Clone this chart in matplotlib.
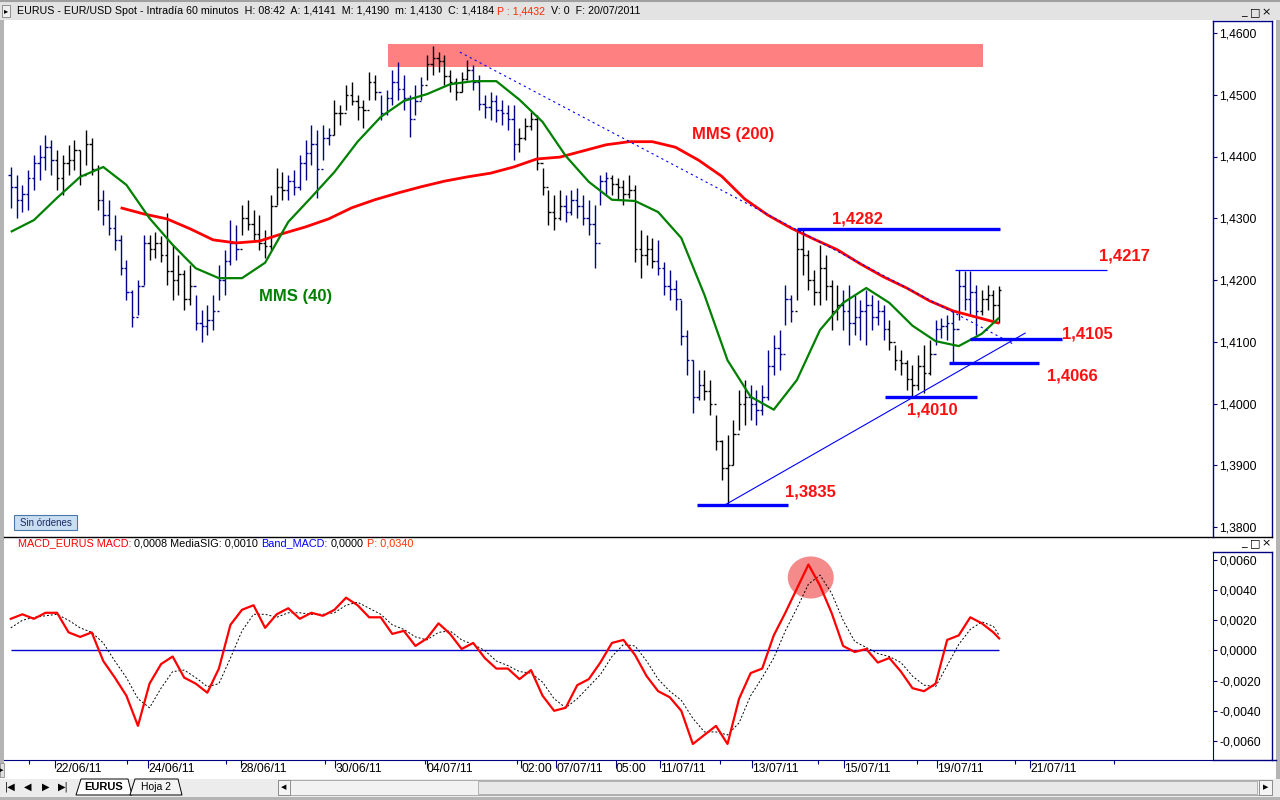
import numpy as np
import matplotlib
matplotlib.use('Agg')
import matplotlib.pyplot as plt
from matplotlib.patches import Rectangle, Ellipse, Polygon
from matplotlib.lines import Line2D

plt.rcParams['font.family'] = ['Liberation Sans', 'DejaVu Sans']

# ---------------- data (3-hour bars, 8 per trading day) ----------------
days = ['21/06', '22/06', '23/06', '24/06', '27/06', '28/06', '29/06', '30/06', '01/07', '04/07', '05/07',
        '06/07', '07/07', '08/07', '11/07', '12/07', '13/07', '14/07', '15/07', '18/07', '19/07', '20/07']
bars_per_day = 8
open_first = 1.4370

high = [1.4383, 1.4370, 1.4354, 1.4378, 1.4402, 1.4419, 1.4435, 1.4427,
        1.4411, 1.4402, 1.4419, 1.4427, 1.4411, 1.4443, 1.4430, 1.4386,
        1.4346, 1.4330, 1.4305, 1.4273, 1.4232, 1.4184, 1.4200, 1.4273,
        1.4273, 1.4278, 1.4271, 1.4308, 1.4257, 1.4240, 1.4216, 1.4224,
        1.4176, 1.4151, 1.4159, 1.4176, 1.4224, 1.4249, 1.4297, 1.4289,
        1.4322, 1.4330, 1.4313, 1.4305, 1.4281, 1.4338, 1.4381, 1.4375,
        1.4370, 1.4378, 1.4402, 1.4427, 1.4451, 1.4443, 1.4451, 1.4446,
        1.4491, 1.4483, 1.4516, 1.4521, 1.4500, 1.4491, 1.4537, 1.4532,
        1.4500, 1.4508, 1.4540, 1.4553, 1.4532, 1.4500, 1.4516, 1.4529,
        1.4564, 1.4579, 1.4569, 1.4564, 1.4540, 1.4527, 1.4537, 1.4556,
        1.4548, 1.4532, 1.4500, 1.4505, 1.4500, 1.4491, 1.4483, 1.4483,
        1.4446, 1.4462, 1.4472, 1.4467, 1.4381, 1.4346, 1.4338, 1.4346,
        1.4338, 1.4346, 1.4349, 1.4338, 1.4330, 1.4321, 1.4370, 1.4375,
        1.4370, 1.4365, 1.4362, 1.4370, 1.4354, 1.4281, 1.4273, 1.4268,
        1.4265, 1.4229, 1.4216, 1.4200, 1.4168, 1.4119, 1.4070, 1.4054,
        1.4054, 1.4038, 1.3981, 1.3941, 1.3949, 1.3973, 1.4022, 1.4038,
        1.4030, 1.4022, 1.4030, 1.4087, 1.4111, 1.4119, 1.4192, 1.4176,
        1.4282, 1.4281, 1.4249, 1.4216, 1.4257, 1.4240, 1.4200, 1.4192,
        1.4184, 1.4192, 1.4176, 1.4168, 1.4184, 1.4176, 1.4168, 1.4159,
        1.4135, 1.4095, 1.4087, 1.4070, 1.4062, 1.4079, 1.4095, 1.4103,
        1.4135, 1.4138, 1.4143, 1.4151, 1.4217, 1.4214, 1.4214, 1.4192,
        1.4184, 1.4192, 1.4184, 1.4190]
low = [1.4317, 1.4300, 1.4310, 1.4313, 1.4346, 1.4362, 1.4378, 1.4370,
       1.4346, 1.4338, 1.4370, 1.4378, 1.4354, 1.4386, 1.4370, 1.4313,
       1.4289, 1.4273, 1.4249, 1.4208, 1.4168, 1.4124, 1.4143, 1.4192,
       1.4232, 1.4236, 1.4229, 1.4192, 1.4168, 1.4176, 1.4151, 1.4159,
       1.4119, 1.4100, 1.4111, 1.4119, 1.4168, 1.4176, 1.4224, 1.4232,
       1.4273, 1.4281, 1.4265, 1.4249, 1.4236, 1.4249, 1.4322, 1.4330,
       1.4330, 1.4338, 1.4346, 1.4362, 1.4386, 1.4333, 1.4394, 1.4419,
       1.4435, 1.4451, 1.4475, 1.4483, 1.4459, 1.4446, 1.4491, 1.4491,
       1.4459, 1.4467, 1.4483, 1.4491, 1.4475, 1.4432, 1.4467, 1.4491,
       1.4524, 1.4532, 1.4537, 1.4516, 1.4504, 1.4491, 1.4504, 1.4524,
       1.4508, 1.4475, 1.4462, 1.4459, 1.4456, 1.4451, 1.4443, 1.4394,
       1.4407, 1.4427, 1.4443, 1.4378, 1.4338, 1.4289, 1.4281, 1.4297,
       1.4294, 1.4305, 1.4300, 1.4289, 1.4273, 1.4219, 1.4321, 1.4338,
       1.4338, 1.4330, 1.4321, 1.4333, 1.4229, 1.4203, 1.4224, 1.4219,
       1.4208, 1.4176, 1.4168, 1.4151, 1.4095, 1.4046, 1.3985, 1.4006,
       1.4006, 1.3981, 1.3925, 1.3876, 1.3835, 1.3900, 1.3957, 1.3965,
       1.3973, 1.3965, 1.3981, 1.4006, 1.4046, 1.4054, 1.4127, 1.4132,
       1.4168, 1.4208, 1.4184, 1.4160, 1.4160, 1.4168, 1.4119, 1.4135,
       1.4119, 1.4095, 1.4111, 1.4103, 1.4095, 1.4119, 1.4127, 1.4103,
       1.4087, 1.4054, 1.4046, 1.4022, 1.4010, 1.4022, 1.4017, 1.4046,
       1.4095, 1.4106, 1.4103, 1.4066, 1.4135, 1.4151, 1.4143, 1.4111,
       1.4143, 1.4151, 1.4135, 1.4130]
close = [1.4350, 1.4330, 1.4340, 1.4365, 1.4390, 1.4400, 1.4415, 1.4395,
         1.4365, 1.4390, 1.4395, 1.4410, 1.4370, 1.4420, 1.4380, 1.4330,
         1.4305, 1.4285, 1.4265, 1.4220, 1.4180, 1.4140, 1.4190, 1.4260,
         1.4250, 1.4260, 1.4240, 1.4215, 1.4200, 1.4210, 1.4170, 1.4190,
         1.4130, 1.4125, 1.4135, 1.4150, 1.4200, 1.4230, 1.4260, 1.4250,
         1.4300, 1.4290, 1.4275, 1.4260, 1.4255, 1.4320, 1.4350, 1.4345,
         1.4360, 1.4350, 1.4390, 1.4405, 1.4420, 1.4380, 1.4430, 1.4435,
         1.4470, 1.4470, 1.4500, 1.4490, 1.4480, 1.4475, 1.4520, 1.4505,
         1.4470, 1.4495, 1.4520, 1.4510, 1.4495, 1.4460, 1.4490, 1.4515,
         1.4550, 1.4560, 1.4555, 1.4530, 1.4520, 1.4505, 1.4525, 1.4540,
         1.4520, 1.4485, 1.4480, 1.4490, 1.4475, 1.4470, 1.4460, 1.4420,
         1.4430, 1.4450, 1.4460, 1.4390, 1.4350, 1.4310, 1.4300, 1.4320,
         1.4310, 1.4330, 1.4320, 1.4300, 1.4290, 1.4260, 1.4360, 1.4365,
         1.4355, 1.4350, 1.4340, 1.4345, 1.4250, 1.4240, 1.4250, 1.4230,
         1.4220, 1.4190, 1.4185, 1.4170, 1.4110, 1.4070, 1.4010, 1.4030,
         1.4020, 1.4000, 1.3940, 1.3895, 1.3900, 1.3950, 1.4000, 1.4010,
         1.4000, 1.3990, 1.4010, 1.4060, 1.4090, 1.4080, 1.4170, 1.4150,
         1.4250, 1.4240, 1.4200, 1.4180, 1.4220, 1.4190, 1.4150, 1.4160,
         1.4150, 1.4130, 1.4140, 1.4150, 1.4160, 1.4140, 1.4150, 1.4120,
         1.4100, 1.4070, 1.4065, 1.4040, 1.4030, 1.4060, 1.4050, 1.4080,
         1.4120, 1.4125, 1.4130, 1.4120, 1.4190, 1.4170, 1.4180, 1.4150,
         1.4170, 1.4175, 1.4160, 1.4184]

# MMS(40) read every 4 bars (last point = last bar)
mms40_idx = list(range(0, 169, 4)) + [171]
mms40 = [1.4278, 1.4297, 1.4333, 1.4367, 1.4383, 1.4354, 1.4300, 1.4257, 1.4219, 1.4203,
         1.4203, 1.4228, 1.4294, 1.4334, 1.4375, 1.4424, 1.4464, 1.4490, 1.4501, 1.4517,
         1.4522, 1.4522, 1.4492, 1.4456, 1.4401, 1.4359, 1.4330, 1.4328, 1.4310, 1.4268,
         1.4176, 1.4070, 1.4011, 1.3990, 1.4038, 1.4119, 1.4163, 1.4187, 1.4163, 1.4126,
         1.4101, 1.4093, 1.4113, 1.4139]
# MMS(200) read every 4 bars from where it starts
mms200_idx = list(range(19, 172, 4))
mms200 = [1.4317, 1.4307, 1.4299, 1.4283, 1.4265, 1.4260, 1.4263, 1.4275, 1.4286, 1.4299,
          1.4317, 1.4330, 1.4341, 1.4351, 1.4360, 1.4367, 1.4373, 1.4383, 1.4396, 1.4399,
          1.4409, 1.4419, 1.4424, 1.4424, 1.4415, 1.4394, 1.4368, 1.4331, 1.4305, 1.4284,
          1.4266, 1.4249, 1.4226, 1.4205, 1.4187, 1.4166, 1.4150, 1.4140, 1.4130]

# MACD (every 2 bars, last point = last bar)
macd_idx = list(range(0, 171, 2)) + [171]
macd = [0.0021, 0.0024, 0.0021, 0.0025, 0.0025, 0.0012, 0.0009, 0.0012, -0.0007, -0.0018,
        -0.0030, -0.0050, -0.0022, -0.0009, -0.0004, -0.0018, -0.0022, -0.0028, -0.0012, 0.0017,
        0.0027, 0.0030, 0.0015, 0.0024, 0.0028, 0.0021, 0.0025, 0.0023, 0.0027, 0.0035,
        0.0030, 0.0022, 0.0022, 0.0011, 0.0013, 0.0003, 0.0008, 0.0018, 0.0011, 0.0001,
        0.0005, -0.0005, -0.0012, -0.0012, -0.0019, -0.0013, -0.0030, -0.0040, -0.0038, -0.0023,
        -0.0019, -0.0008, 0.0005, 0.0007, -0.0003, -0.0017, -0.0027, -0.0031, -0.0040, -0.0062,
        -0.0056, -0.0050, -0.0062, -0.0032, -0.0015, -0.0012, 0.0010, 0.0025, 0.0041, 0.0057,
        0.0043, 0.0025, 0.0003, -0.0001, 0.0001, -0.0008, -0.0005, -0.0014, -0.0025, -0.0027,
        -0.0022, 0.0007, 0.0010, 0.0022, 0.0018, 0.0012, 0.0008]
media_sig = [0.0015, 0.0020, 0.0022, 0.0023, 0.0024, 0.0020, 0.0015, 0.0012, 0.0005, -0.0007,
             -0.0018, -0.0032, -0.0038, -0.0025, -0.0014, -0.0013, -0.0018, -0.0024, -0.0022, -0.0005,
             0.0013, 0.0024, 0.0024, 0.0022, 0.0025, 0.0025, 0.0024, 0.0024, 0.0025, 0.0030,
             0.0032, 0.0028, 0.0024, 0.0017, 0.0014, 0.0009, 0.0007, 0.0012, 0.0013, 0.0007,
             0.0004, 0.0000, -0.0007, -0.0010, -0.0014, -0.0015, -0.0021, -0.0032, -0.0038, -0.0032,
             -0.0024, -0.0016, -0.0004, 0.0004, 0.0003, -0.0007, -0.0019, -0.0027, -0.0033, -0.0045,
             -0.0054, -0.0054, -0.0056, -0.0048, -0.0030, -0.0018, -0.0005, 0.0013, 0.0028, 0.0044,
             0.0050, 0.0038, 0.0020, 0.0006, 0.0002, -0.0002, -0.0004, -0.0008, -0.0017, -0.0023,
             -0.0024, -0.0010, 0.0004, 0.0014, 0.0019, 0.0016, 0.0010]

# annotations (bar index / price)
levels = [1.4282, 1.4217, 1.4105, 1.4066, 1.4010, 1.3835]
level_from = [136.0, 163.4, 165.9, 162.3, 151.2, 118.7]
level_to = [171.1, 189.7, 181.9, 177.9, 167.2, 134.5]
level_thick = [True, False, True, True, True, True]
level_text_pos = [(146.4, 1.4298), (192.6, 1.4239), (186.2, 1.4113), (183.6, 1.4045), (159.4, 1.3990), (138.3, 1.3857)]
resist_zone = (65.3, 168.2, 1.45449, 1.45822)
down_trend = ([77.7, 173.7], [1.4569, 1.4095])
up_trend = ([123.6, 175.5], [1.3836, 1.4114])
macd_circle = (138.4, 0.00484, 7.96, 0.00279)
price_ticks = [1.46, 1.45, 1.44, 1.43, 1.42, 1.41, 1.40, 1.39, 1.38]
macd_ticks = [0.006, 0.004, 0.002, 0.0, -0.002, -0.004, -0.006]
time_labels = ['22/06/11', '24/06/11', '28/06/11', '30/06/11', '04/07/11', '02:00', '07/07/11',
               '05:00', '11/07/11', '13/07/11', '15/07/11', '19/07/11', '21/07/11']
time_pos = [7.7, 23.8, 39.8, 56.1, 72.0, 88.3, 94.4, 104.7, 112.3, 128.3, 144.2, 160.3, 176.4]
time_minor = [3.2, 20.1, 37.3, 54.3, 71.6, 87.6, 122.7, 139.7, 156.8, 173.8, 190.8]

# ---------------- figure ----------------
W, H = 1280, 800
fig = plt.figure(figsize=(W / 100, H / 100), dpi=100, facecolor='white')
renderer = fig.canvas.get_renderer()


def fx(px):
    return px / W


def fy(py):
    return 1 - py / H


def frect(x0, y0, x1, y1, **kw):
    fig.add_artist(Rectangle((fx(x0), fy(y1)), (x1 - x0) / W, (y1 - y0) / H,
                             transform=fig.transFigure, **kw))


def fline(xs, ys, **kw):
    fig.add_artist(Line2D([fx(x) for x in xs], [fy(y) for y in ys], transform=fig.transFigure, **kw))


def seg_text(x_px, y_px, parts, size, weight='normal'):
    t1 = fig.text(0, 0, 'a a', fontsize=size)
    t2 = fig.text(0, 0, 'aa', fontsize=size)
    sp = t1.get_window_extent(renderer).width - t2.get_window_extent(renderer).width
    t1.remove(); t2.remove()
    x = x_px
    for s, c in parts:
        lead = len(s) - len(s.lstrip(' '))
        trail = len(s) - len(s.rstrip(' '))
        x += lead * sp
        t = fig.text(fx(x), fy(y_px), s.strip(' '), color=c, fontsize=size,
                     ha='left', va='center', fontweight=weight)
        x += t.get_window_extent(renderer).width + trail * sp
    return x


NAVY = '#000080'
X0, STEP = 10.8, 5.78
xlim = ((4 - X0) / STEP, (1213 - X0) / STEP)

# main price axes
ax = fig.add_axes([fx(4), fy(537), (1213 - 4) / W, (537 - 21) / H])
ax.set_xlim(*xlim)
ax.set_ylim(1.46 - (537 - 33) / 6175, 1.46 + (33 - 21) / 6175)
for s in ['top', 'left', 'bottom']:
    ax.spines[s].set_visible(False)
ax.spines['right'].set_color(NAVY)
ax.spines['right'].set_linewidth(1.0)
ax.yaxis.tick_right()
ax.set_yticks(price_ticks)
ax.set_yticklabels([f'{v:.4f}'.replace('.', ',') for v in price_ticks])
ax.tick_params(axis='y', direction='out', length=3, width=0.8, color=NAVY, labelsize=8.7, pad=1.5)
ax.tick_params(axis='x', bottom=False, labelbottom=False)

# resistance zone
rz = resist_zone
ax.add_patch(Rectangle((rz[0], rz[2]), rz[1] - rz[0], rz[3] - rz[2], facecolor='#ff8080',
                       edgecolor='none', zorder=1))

# OHLC bars
n = len(close)
idx = np.arange(n)
opens = [open_first] + close[:-1]
bar_cols = ['#00008b', '#000000']
cols = [bar_cols[(i // bars_per_day) % 2] for i in idx]
ax.vlines(idx, low, high, colors=cols, lw=1.0, zorder=3)
ax.hlines(opens, idx - 0.4, idx, colors=cols, lw=1.0, zorder=3)
ax.hlines(close, idx, idx + 0.4, colors=cols, lw=1.0, zorder=3)

# moving averages
ax.plot(mms200_idx, mms200, color='#ff0000', lw=2.0, zorder=4, solid_capstyle='butt')
ax.plot(mms40_idx, mms40, color='#008000', lw=1.6, zorder=4, solid_capstyle='butt')

# trend lines
ax.plot(down_trend[0], down_trend[1], color='#0000ff', lw=0.8, ls=(0, (2, 3)), zorder=5)
ax.plot(up_trend[0], up_trend[1], color='#0000ff', lw=0.8, zorder=5)

# levels
for lv, a, b, th in zip(levels, level_from, level_to, level_thick):
    ax.hlines(lv, a, b, color='#0000ff', lw=2.4 if th else 0.9, zorder=5)
for lv, (tx, ty) in zip(levels, level_text_pos):
    ax.text(tx, ty, f'{lv:.4f}'.replace('.', ','), color='#ff1010', fontsize=12,
            fontweight='bold', ha='center', va='center', zorder=6)
ax.text(124.9, 1.4435, 'MMS (200)', color='#ff1010', fontsize=12, fontweight='bold',
        ha='center', va='center', zorder=6)
ax.text(49.2, 1.41725, 'MMS (40)', color='#008000', fontsize=12, fontweight='bold',
        ha='center', va='center', zorder=6)

# MACD axes
axm = fig.add_axes([fx(4), fy(760), (1213 - 4) / W, (760 - 552) / H])
axm.set_xlim(*xlim)
axm.set_ylim(0.006 - (760 - 560) / 15080, 0.006 + (560 - 552) / 15080)
for s in ['top', 'left']:
    axm.spines[s].set_visible(False)
axm.spines['right'].set_color(NAVY)
axm.spines['bottom'].set_color(NAVY)
axm.yaxis.tick_right()
axm.set_yticks(macd_ticks)
axm.set_yticklabels([f'{v:.4f}'.replace('.', ',') if v != 0 else '0,0000' for v in macd_ticks])
axm.tick_params(axis='y', direction='out', length=3, width=0.8, color=NAVY, labelsize=8.7, pad=1.5)
axm.set_xticks(time_pos)
axm.set_xticklabels(time_labels)
axm.set_xticks(time_minor, minor=True)
axm.tick_params(axis='x', which='major', direction='out', length=6, width=0.8, color=NAVY,
                labelsize=8.7, pad=-3.5)
axm.tick_params(axis='x', which='minor', direction='out', length=3, width=0.8, color=NAVY)
for lab in axm.get_xticklabels():
    lab.set_ha('left')

mc = macd_circle
axm.add_patch(Ellipse((mc[0], mc[1]), mc[2], mc[3], facecolor='#f48a8a', edgecolor='none', zorder=1))
axm.hlines(0, 0, n - 1, color='#0000cc', lw=1.0, zorder=2)
axm.plot(macd_idx, media_sig, color='black', lw=0.7, ls=(0, (2, 2)), zorder=3)
axm.plot(macd_idx, macd, color='#ff0000', lw=1.6, zorder=4)

# ---------------- window chrome ----------------
frect(0, 0, W, 20, facecolor='#e3e3e3', edgecolor='none')
fline([0, W], [0.5, 0.5], color='#a0a0a0', lw=1.5)
frect(0, 20, 4, 778, facecolor='#b4b4b4', edgecolor='none')
frect(1276, 20, W, 800, facecolor='#b4b4b4', edgecolor='none')
frect(2, 5, 10, 17, facecolor='#f0f0f0', edgecolor='#808080', lw=0.6)
fig.text(fx(6), fy(11), '▸', fontsize=6, ha='center', va='center', family='DejaVu Sans')

seg_text(17, 11.5, [('EURUS - EUR/USD Spot - Intradía 60 minutos  H: 08:42  A: 1,4141  M: 1,4190  '
                     'm: 1,4130  C: 1,4184 ', 'black'), ('P : 1,4432', '#ff2a00'),
                    ('  V: 0  F: 20/07/2011', 'black')], 7.65)
for xb, g in zip([1244, 1255, 1266], ['_', '□', '×']):
    fig.text(fx(xb), fy(12), g, fontsize=8, ha='center', va='center', family='DejaVu Sans')
for xb, g in zip([1244, 1255, 1266], ['_', '□', '×']):
    fig.text(fx(xb), fy(543), g, fontsize=8, ha='center', va='center', family='DejaVu Sans')

# price box borders
fline([1213, 1272], [21, 21], color=NAVY, lw=1)
fline([1272, 1272], [21, 537], color=NAVY, lw=1)
fline([4, 1272], [537, 537], color='black', lw=1)
fline([1213, 1272], [552, 552], color=NAVY, lw=1)
fline([1272, 1272], [552, 760], color=NAVY, lw=1)
fline([1213, 1276], [760, 760], color=NAVY, lw=1)

# Sin ordenes button
frect(14, 515, 77, 530, facecolor='#c9def2', edgecolor='#4a78a8', lw=0.8)
fig.text(fx(45.5), fy(522.5), 'Sin órdenes', fontsize=7, ha='center', va='center', color='#1a2a60')

# MACD legend text
seg_text(18, 543.5, [('MACD_EURUS MACD:', '#ff0000'), (' 0,0008 MediaSIG: 0,0010 ', 'black'),
                     ('Band_MACD:', '#0000ff'), (' 0,0000 ', 'black'), ('P: 0,0340', '#ff3300')], 7.8)

# bottom tab bar
frect(0, 779, W, 800, facecolor='#ececec', edgecolor='none')
frect(0, 797, W, 800, facecolor='#b4b4b4', edgecolor='none')
frect(0, 763, 4, 777, facecolor='#e0e0e0', edgecolor='#909090', lw=0.6)
fig.text(fx(2), fy(770), '▸', fontsize=5, ha='center', va='center', family='DejaVu Sans')
for xb, g in zip([10, 28, 46, 63], ['|◀', '◀', '▶', '▶|']):
    fig.text(fx(xb), fy(787), g, fontsize=7, ha='center', va='center', family='DejaVu Sans')
fig.add_artist(Polygon([[fx(76), fy(795)], [fx(81), fy(779)], [fx(128), fy(779)], [fx(132), fy(795)]],
                       closed=True, facecolor='white', edgecolor='black', lw=0.7, transform=fig.transFigure))
fig.text(fx(104), fy(787), 'EURUS', fontsize=8, fontweight='bold', ha='center', va='center')
fig.add_artist(Polygon([[fx(130), fy(795)], [fx(135), fy(779)], [fx(178), fy(779)], [fx(182), fy(795)]],
                       closed=True, facecolor='#f4f4f4', edgecolor='black', lw=0.7, transform=fig.transFigure))
fig.text(fx(156), fy(787), 'Hoja 2', fontsize=7.5, ha='center', va='center')
frect(278, 780, 1272, 795, facecolor='#f2f2f2', edgecolor='#a0a0a0', lw=0.6)
frect(278, 780, 290, 795, facecolor='#f4f4f4', edgecolor='#808080', lw=0.6)
fig.text(fx(284), fy(787.5), '◀', fontsize=5, ha='center', va='center', family='DejaVu Sans')
frect(478, 781, 1257, 794, facecolor='#e8e8e8', edgecolor='#a8a8a8', lw=0.6)
frect(1259, 780, 1272, 795, facecolor='#f4f4f4', edgecolor='#808080', lw=0.6)
fig.text(fx(1265.5), fy(787.5), '▶', fontsize=5, ha='center', va='center', family='DejaVu Sans')

fig.savefig('out.png', dpi=100, facecolor=fig.get_facecolor())
